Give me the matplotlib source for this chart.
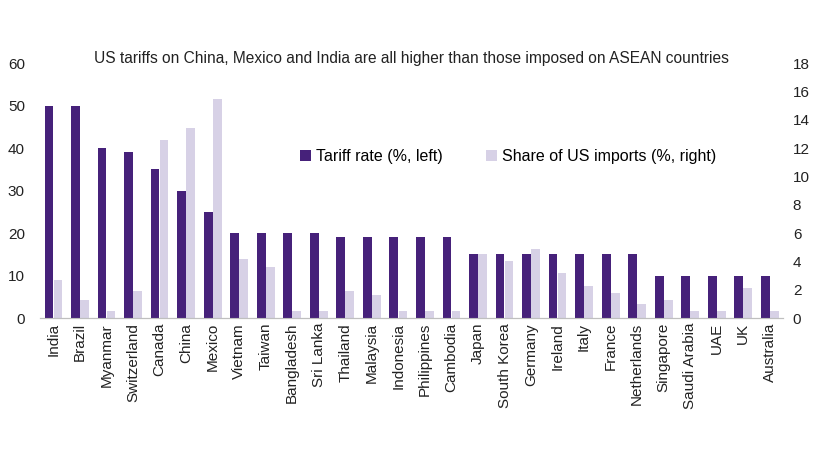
import matplotlib
matplotlib.use("Agg")

import matplotlib.pyplot as plt
import numpy as np

countries = ["India", "Brazil", "Myanmar", "Switzerland", "Canada", "China", "Mexico",
             "Vietnam", "Taiwan", "Bangladesh", "Sri Lanka", "Thailand", "Malaysia",
             "Indonesia", "Philippines", "Cambodia", "Japan", "South Korea", "Germany",
             "Ireland", "Italy", "France", "Netherlands", "Singapore", "Saudi Arabia",
             "UAE", "UK", "Australia"]
tariff_rate = [50, 50, 40, 39, 35, 30, 25, 20, 20, 20, 20, 19, 19, 19, 19, 19,
               15, 15, 15, 15, 15, 15, 15, 10, 10, 10, 10, 10]
import_share = [2.7, 1.3, 0.5, 1.9, 12.6, 13.4, 15.5, 4.2, 3.6, 0.5, 0.5, 1.9, 1.6,
                0.5, 0.5, 0.5, 4.5, 4.0, 4.85, 3.2, 2.3, 1.8, 1.0, 1.3, 0.5, 0.5, 2.1, 0.5]

plt.rcParams["font.family"] = ["Liberation Sans", "DejaVu Sans"]
dark = "#46217a"
light = "#d7d1e6"

fig = plt.figure(figsize=(8.2, 4.61), dpi=100)
ax = fig.add_axes([0.049, 0.31, 0.906, 0.553])
ax2 = ax.twinx()

x = np.arange(len(countries))
w = 0.33
b1 = ax.bar(x - 0.17, tariff_rate, w, color=dark, label="Tariff rate (%, left)")
b2 = ax2.bar(x + 0.17, import_share, w, color=light, label="Share of US imports (%, right)")

ax.set_ylim(0, 60)
ax2.set_ylim(0, 18)
ax.set_yticks(range(0, 61, 10))
ax2.set_yticks(range(0, 19, 2))
ax.set_xlim(-0.5, len(countries) - 0.5)
ax.set_xticks(x)
ax.set_xticklabels(countries, rotation=90, fontsize=11)

for a in (ax, ax2):
    for s in ("top", "left", "right"):
        a.spines[s].set_visible(False)
    a.spines["bottom"].set_color("#bfbfbf")
    a.tick_params(length=0, labelsize=11, colors="#222222")
ax.tick_params(axis="y", pad=11)
ax2.tick_params(axis="y", pad=7)

ax.set_zorder(ax2.get_zorder() + 1)
ax.patch.set_visible(False)

ax.legend([b1, b2], [b1.get_label(), b2.get_label()], loc="center",
          bbox_to_anchor=(0.63, 0.635), ncol=2, frameon=False, fontsize=11.5,
          handlelength=0.7, handletextpad=0.3, columnspacing=2.7)

fig.text(0.502, 0.874, "US tariffs on China, Mexico and India are all higher than those imposed on ASEAN countries",
         ha="center", va="center", fontsize=11.2, color="#222222")

fig.savefig("out.png", dpi=100)
